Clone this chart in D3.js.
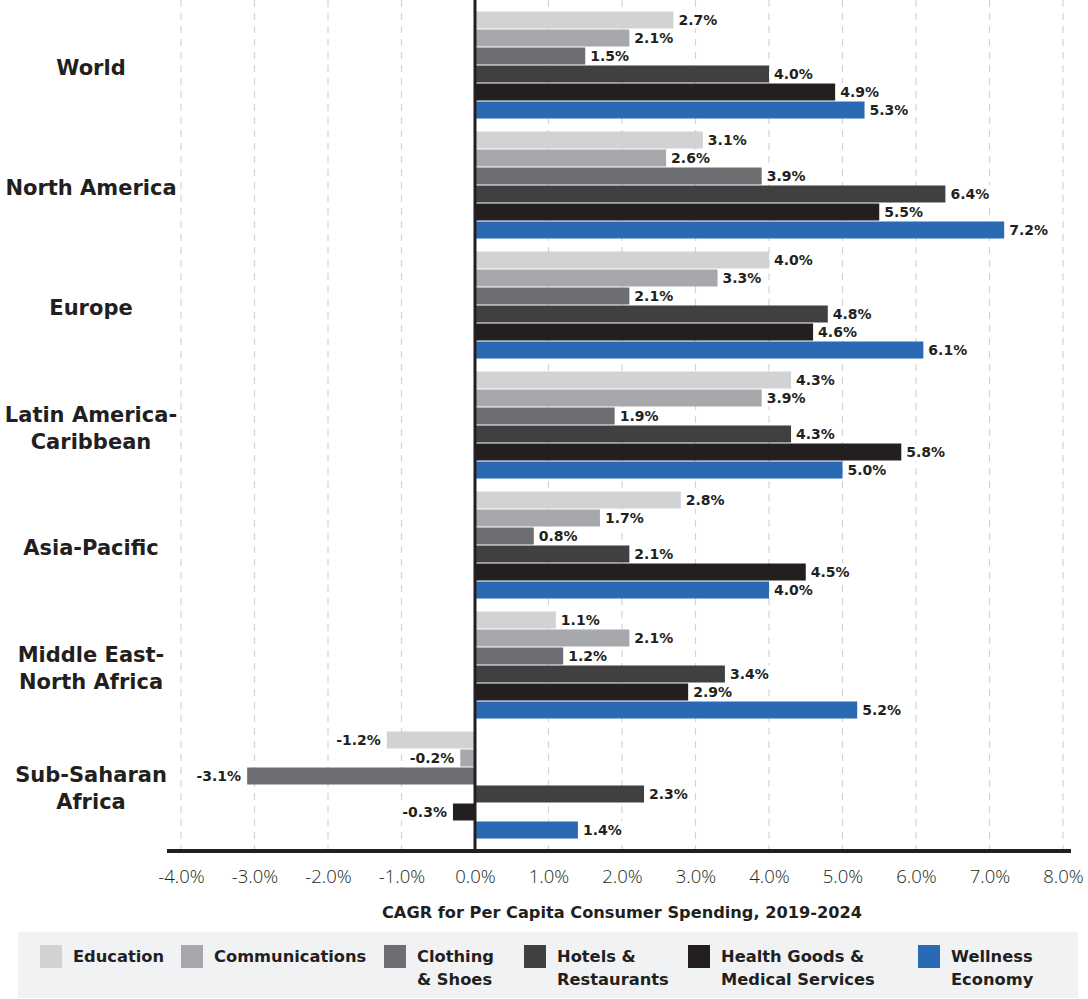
<!DOCTYPE html>
<html><head><meta charset="utf-8">
<script src="https://cdn.jsdelivr.net/npm/d3@7"></script>
<style>body{margin:0;background:#fff}svg{display:block}</style>
</head><body>
<svg id="c" width="1088" height="999"></svg>
<script>
const regions = ["World","North America","Europe","Latin America-\nCaribbean","Asia-Pacific","Middle East-\nNorth Africa","Sub-Saharan\nAfrica"];
const seriesNames = ["Education","Communications","Clothing\n& Shoes","Hotels &\nRestaurants","Health Goods &\nMedical Services","Wellness\nEconomy"];
const seriesColors = ["#d1d2d4","#a7a8ab","#6d6e71","#404041","#231f20","#2a69b4"];
const education      = [2.7, 3.1, 4.0, 4.3, 2.8, 1.1, -1.2];
const communications = [2.1, 2.6, 3.3, 3.9, 1.7, 2.1, -0.2];
const clothing       = [1.5, 3.9, 2.1, 1.9, 0.8, 1.2, -3.1];
const hotels         = [4.0, 6.4, 4.8, 4.3, 2.1, 3.4, 2.3];
const health         = [4.9, 5.5, 4.6, 5.8, 4.5, 2.9, -0.3];
const wellness       = [5.3, 7.2, 6.1, 5.0, 4.0, 5.2, 1.4];
const xTicks = [-4,-3,-2,-1,0,1,2,3,4,5,6,7,8];
const xTitle = "CAGR for Per Capita Consumer Spending, 2019-2024";

const seriesValues = [education, communications, clothing, hotels, health, wellness];
const svg = d3.select("#c");
const dark = "#231f20";
const boldFont = "DejaVu Sans, sans-serif";
const pct = v => d3.format(".1f")(v).replace("\u2212", "-") + "%";

const x = d3.scaleLinear().domain([-4, 8]).range([181, 1063]);
const y = d3.scaleBand().domain(d3.range(regions.length)).range([5, 845]).paddingInner(0.1).paddingOuter(0.05);
const yi = d3.scaleBand().domain(d3.range(seriesNames.length)).range([0, y.bandwidth()]);

// gridlines
svg.append("g").selectAll("line").data(xTicks.filter(t => t !== 0)).join("line")
  .attr("x1", d => x(d)).attr("x2", d => x(d)).attr("y1", 0).attr("y2", 851)
  .attr("stroke", "#d4d4d4").attr("stroke-width", 1.2).attr("stroke-dasharray", "7,6");

// bars
const groups = svg.append("g").selectAll("g").data(regions).join("g")
  .attr("transform", (d, i) => `translate(0,${y(i)})`);
groups.each(function(r, ri) {
  const g = d3.select(this);
  seriesValues.forEach((vals, si) => {
    const v = vals[ri];
    g.append("rect")
      .attr("x", Math.min(x(0), x(v))).attr("width", Math.abs(x(v) - x(0)))
      .attr("y", yi(si) + 0.5).attr("height", yi.bandwidth() - 1)
      .attr("fill", seriesColors[si]);
  });
});

// zero line
svg.append("line").attr("x1", x(0)).attr("x2", x(0)).attr("y1", 0).attr("y2", 851)
  .attr("stroke", dark).attr("stroke-width", 3);

// value labels
groups.each(function(r, ri) {
  const g = d3.select(this);
  seriesValues.forEach((vals, si) => {
    const v = vals[ri];
    const lg = g.append("g");
    const txt = lg.append("text")
      .attr("x", v >= 0 ? x(v) + 5 : x(v) - 6)
      .attr("y", yi(si) + yi.bandwidth() / 2 + 5)
      .attr("text-anchor", v >= 0 ? "start" : "end")
      .attr("font-family", boldFont).attr("font-weight", 700)
      .attr("font-size", 14).attr("fill", dark).text(pct(v));
    const bb = txt.node().getBBox();
    const x0 = v >= 0 ? x(v) + 1 : bb.x - 4;
    const w = v >= 0 ? bb.x + bb.width + 3 - x0 : x(v) - 1 - x0;
    lg.insert("rect", "text").attr("x", x0).attr("y", yi(si) + 0.5)
      .attr("width", w).attr("height", yi.bandwidth() - 1).attr("fill", "#fff");
  });
});

// region labels
svg.append("g").selectAll("text").data(regions).join("text")
  .attr("text-anchor", "middle")
  .attr("font-family", boldFont).attr("font-weight", 700).attr("font-size", 21)
  .attr("fill", dark)
  .each(function(d, i) {
    const lines = d.split("\n");
    const cy = y(i) + y.bandwidth() / 2;
    const t = d3.select(this);
    lines.forEach((l, k) => {
      t.append("tspan").attr("x", 91)
        .attr("y", cy + 10 + (k - (lines.length - 1) / 2) * 27).text(l);
    });
  });

// x axis
const xAxis = d3.axisBottom(x).tickValues(xTicks).tickFormat(pct).tickSize(0).tickPadding(19);
const ax = svg.append("g").attr("transform", "translate(0,851)").call(xAxis);
ax.select(".domain").remove();
ax.selectAll("text").attr("font-family", "Open Sans, sans-serif").attr("font-weight", 300)
  .attr("font-size", 18.5).attr("fill", dark);
svg.append("line").attr("x1", 167).attr("x2", 1071).attr("y1", 851).attr("y2", 851)
  .attr("stroke", dark).attr("stroke-width", 4);

svg.append("text").attr("x", (x(-4) + x(8)) / 2).attr("y", 918).attr("text-anchor", "middle")
  .attr("font-family", boldFont).attr("font-weight", 700).attr("font-size", 16.2)
  .attr("fill", dark).text(xTitle);

// legend
svg.append("rect").attr("x", 18).attr("y", 932).attr("width", 1060).attr("height", 66).attr("fill", "#f1f2f4");
const legendX = [40, 181, 384, 524, 688, 918];
const lg = svg.append("g").selectAll("g").data(seriesNames).join("g")
  .attr("transform", (d, i) => `translate(${legendX[i]},945)`);
lg.append("rect").attr("width", 22).attr("height", 23).attr("fill", (d, i) => seriesColors[i]);
lg.append("text").attr("font-family", boldFont).attr("font-weight", 700)
  .attr("font-size", 16.3).attr("fill", dark)
  .each(function(d) {
    const t = d3.select(this);
    d.split("\n").forEach((l, k) => t.append("tspan").attr("x", 33).attr("y", 17 + k * 23).text(l));
  });
</script>
</body></html>
